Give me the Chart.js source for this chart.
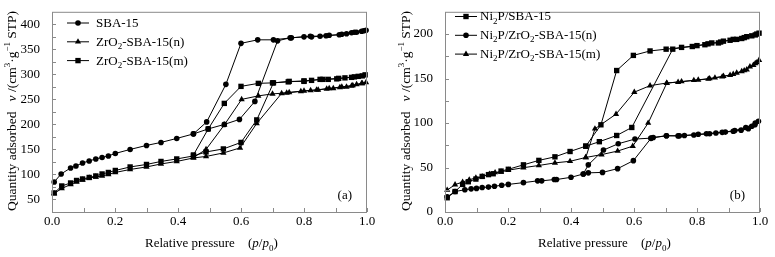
<!DOCTYPE html>
<html>
<head>
<meta charset="utf-8">
<script src="https://cdn.jsdelivr.net/npm/chart.js@4.4.1/dist/chart.umd.min.js"></script>
<style>
body { margin: 0; background: #fff; }
#wrap { position: relative; width: 775px; height: 257px; }
canvas { position: absolute; top: 0; }
#chartA { left: 0; }
#chartB { left: 390px; }
</style>
</head>
<body>
<div id="wrap">
<canvas id="chartA" width="385" height="257"></canvas>
<canvas id="chartB" width="385" height="257"></canvas>
</div>
<script>
// eixo x (pressao relativa p/p0)
const xTicks = [0, 0.2, 0.4, 0.6, 0.8, 1.0];
const xTickLabels = ['0.0', '0.2', '0.4', '0.6', '0.8', '1.0'];
const xMinor = [0.1, 0.3, 0.5, 0.7, 0.9];

// painel (a)
const yTicksA = [50, 100, 150, 200, 250, 300, 350, 400];
const yMinorA = [75, 125, 175, 225, 275, 325, 375];
const labelsA = ['SBA-15', 'ZrO₂-SBA-15(n)', 'ZrO₂-SBA-15(m)'];

const sbaAdsP = [0.007,0.029,0.059,0.076,0.097,0.118,0.139,0.159,0.179,0.201,0.248,0.300,0.346,0.396,0.449,0.496,0.547,0.595,0.644,0.716,0.756,0.800,0.824,0.851,0.880,0.912,0.935,0.951,0.967,0.983,0.997];
const sbaAdsV = [85,101,113,117,123,127,131,134,137,142,150,158,164,172,181,191,200,210,246,367,373,375,375,376,378,379,381,383,384,386,388];
const sbaDesP = [0.990,0.960,0.920,0.870,0.820,0.760,0.703,0.653,0.600,0.552,0.491,0.449];
const sbaDesV = [387,384,380,377,376,373,369,369,362,280,205,181];

const zrnAdsP = [0.007,0.031,0.059,0.078,0.097,0.118,0.139,0.159,0.179,0.201,0.248,0.300,0.346,0.396,0.449,0.489,0.544,0.597,0.650,0.729,0.753,0.800,0.821,0.845,0.872,0.893,0.914,0.935,0.951,0.967,0.983,0.997];
const zrnAdsV = [62,72,80,85,89,93,95,97,100,104,110,115,121,126,133,136,143,153,202,262,264,267,268,269,271,272,274,275,277,280,282,284];
const zrnDesP = [0.985,0.955,0.920,0.880,0.840,0.790,0.745,0.700,0.655,0.602,0.547,0.489,0.449];
const zrnDesV = [282,278,275,272,269,266,263,261,257,250,199,150,134];

const zrmAdsP = [0.007,0.031,0.059,0.078,0.097,0.118,0.139,0.159,0.179,0.201,0.248,0.300,0.346,0.396,0.449,0.489,0.544,0.600,0.650,0.703,0.753,0.800,0.824,0.851,0.877,0.904,0.930,0.951,0.972,0.994];
const zrmAdsV = [63,77,83,88,91,94,97,101,104,108,115,120,126,131,137,145,151,164,209,283,286,286,288,290,290,291,293,294,296,299];
const zrmDesP = [0.985,0.960,0.910,0.860,0.800,0.750,0.700,0.655,0.600,0.547,0.496,0.449];
const zrmDesV = [297,295,292,290,287,285,283,282,276,242,191,139];

// painel (b)
const yTicksB = [0, 50, 100, 150, 200];
const yMinorB = [25, 75, 125, 175];
const labelsB = ['Ni₂P/SBA-15', 'Ni₂P/ZrO₂-SBA-15(n)', 'Ni₂P/ZrO₂-SBA-15(m)'];

const niAdsP = [0.007,0.032,0.056,0.074,0.098,0.118,0.138,0.153,0.178,0.201,0.249,0.298,0.349,0.397,0.447,0.490,0.545,0.593,0.723,0.751,0.800,0.825,0.847,0.868,0.884,0.905,0.926,0.942,0.958,0.974,0.990,0.997];
const niAdsV = [16,23,31,34,37,40,42,43,46,48,53,58,62,68,74,79,86,95,183,185,187,188,190,190,192,193,194,195,197,198,200,201];
const niDesP = [0.985,0.950,0.915,0.875,0.835,0.785,0.702,0.651,0.598,0.545,0.495,0.447];
const niDesV = [199,196,194,191,189,186,183,181,176,159,98,74];

const nizrnAdsP = [0.007,0.032,0.063,0.083,0.100,0.118,0.138,0.157,0.180,0.201,0.249,0.294,0.307,0.347,0.354,0.400,0.439,0.455,0.500,0.548,0.598,0.654,0.661,0.703,0.744,0.760,0.804,0.830,0.860,0.890,0.915,0.940,0.963,0.974,0.984,0.995];
const nizrnAdsV = [17,23,25,26,26.5,27.5,28,29,30,31,33,35,35,36.5,36.5,39,42.7,44,44.5,48.7,57.7,82.8,83.8,85.7,85.7,86,87.4,88,88.8,89.8,90.8,92,93.5,96.4,98,102];
const nizrnDesP = [0.985,0.955,0.920,0.880,0.840,0.790,0.740,0.703,0.654,0.603,0.550,0.503,0.455,0.439];
const nizrnDesV = [100,95,91.5,89.5,88,86.5,85.5,85.7,83,82,76.7,69.6,53,42.7];

const nizrmAdsP = [0.007,0.032,0.056,0.077,0.098,0.118,0.141,0.159,0.178,0.201,0.249,0.298,0.349,0.397,0.447,0.497,0.548,0.596,0.645,0.704,0.751,0.804,0.836,0.857,0.884,0.905,0.926,0.942,0.958,0.968,0.979,0.990,0.997];
const nizrmAdsV = [24.7,30.8,33.7,36.2,38.4,39.8,42.7,44.4,45,47,49.8,52.3,55.2,57,61.3,64.5,68.5,74,100,144.8,146.6,148.4,149.5,150.9,152.7,153.8,156.3,158,160,163.4,165,168,170.6];
const nizrmDesP = [0.985,0.950,0.915,0.880,0.840,0.790,0.740,0.704,0.651,0.601,0.543,0.476,0.447];
const nizrmDesV = [167,159,155,152,150,148,146,145,142,134.7,110,93.5,61.3];

const fonte = '"Liberation Serif", "Times New Roman", serif';

// junta adsorcao + dessorcao numa linha so
function curva(aP, aV, dP, dV) {
    const pts = aP.map((p, i) => ({ x: p, y: aV[i] }));
    return pts.concat(dP.map((p, i) => ({ x: p, y: dV[i] })));
}

function serie(label, dados, estilo, raio) {
    return {
        label: label,
        data: dados,
        showLine: true,
        borderColor: '#000',
        backgroundColor: '#000',
        borderWidth: 1,
        pointStyle: estilo,
        pointRadius: raio,
        pointBorderWidth: 0,
        pointBackgroundColor: '#000',
        clip: false
    };
}

// texto com sub/sobrescrito e italico entre { }
function tokens(txt) {
    const sub = { '₂': '2', '₀': '0' };
    const sup = { '³': '3', '⁻': '−', '¹': '1' };
    const out = [];
    let it = false;
    for (const ch of txt) {
        if (ch === '{') { it = true; continue; }
        if (ch === '}') { it = false; continue; }
        let tipo = 'n', c = ch;
        if (sub[ch]) { tipo = 'sub'; c = sub[ch]; }
        else if (sup[ch]) { tipo = 'sup'; c = sup[ch]; }
        const ult = out[out.length - 1];
        if (ult && ult.tipo === tipo && ult.it === it) ult.t += c;
        else out.push({ t: c, tipo: tipo, it: it });
    }
    return out;
}

function fontDe(tk, size) {
    const s = tk.tipo === 'n' ? size : Math.round(size * 0.68);
    return (tk.it ? 'italic ' : '') + s + 'px ' + fonte;
}

function largura(ctx, toks, size) {
    let w = 0;
    toks.forEach(tk => { ctx.font = fontDe(tk, size); w += ctx.measureText(tk.t).width; });
    return w;
}

function escreve(ctx, txt, x, y, size) {
    const toks = tokens(txt);
    ctx.textBaseline = 'middle';
    ctx.textAlign = 'left';
    toks.forEach(tk => {
        ctx.font = fontDe(tk, size);
        const dy = tk.tipo === 'sub' ? size * 0.32 : tk.tipo === 'sup' ? -size * 0.3 : 0;
        ctx.fillText(tk.t, x, y + dy);
        x += ctx.measureText(tk.t).width;
    });
    return x;
}

const molduraPlugin = {
    id: 'moldura',
    afterDraw(chart, args, opts) {
        const ctx = chart.ctx;
        const a = chart.chartArea;
        const x = chart.scales.x, y = chart.scales.y;
        ctx.save();
        // caixa
        ctx.strokeStyle = '#8a8a8a';
        ctx.lineWidth = 1;
        ctx.strokeRect(a.left + 0.5, a.top + 0.5, a.right - a.left - 1, a.bottom - a.top);
        // ticks para dentro
        ctx.beginPath();
        xTicks.concat(xMinor).forEach(v => {
            const px = Math.round(x.getPixelForValue(v)) + 0.5;
            ctx.moveTo(px, a.bottom);
            ctx.lineTo(px, a.bottom - 4);
        });
        opts.yTicks.concat(opts.yMinor).forEach(v => {
            const py = Math.round(y.getPixelForValue(v)) + 0.5;
            ctx.moveTo(a.left, py);
            ctx.lineTo(a.left + 4, py);
        });
        ctx.stroke();

        ctx.fillStyle = '#000';
        // legenda
        chart.data.datasets.forEach((ds, i) => {
            const ly = opts.legY + i * 18.8;
            ctx.strokeStyle = '#000';
            ctx.beginPath();
            ctx.moveTo(opts.legX, ly + 0.5);
            ctx.lineTo(opts.legX + 22, ly + 0.5);
            ctx.stroke();
            ctx.fillStyle = '#000';
            Chart.helpers.drawPoint(ctx, { pointStyle: ds.pointStyle, radius: ds.pointRadius, rotation: 0, borderWidth: 0 }, opts.legX + 11, ly + 0.5);
            escreve(ctx, ds.label, opts.legX + opts.legText, ly + 1, 13);
        });

        // titulo do eixo y (vertical)
        const ty = tokens(opts.yTitle);
        const w = largura(ctx, ty, 13.5);
        ctx.save();
        ctx.translate(opts.yTitleX, (a.top + a.bottom) / 2 - 1);
        ctx.rotate(-Math.PI / 2);
        escreve(ctx, opts.yTitle, -w / 2, 0, 13.5);
        ctx.restore();

        // titulo do eixo x
        escreve(ctx, 'Relative pressure', a.left + 93, 244, 13);
        escreve(ctx, '({p}/{p}₀)', a.left + 196, 244, 13);

        // letra do painel
        ctx.font = '13px ' + fonte;
        ctx.textAlign = 'right';
        ctx.textBaseline = 'middle';
        ctx.fillText(opts.tag, a.right - 15, a.bottom - 16);
        ctx.restore();
    }
};

function montaGrafico(id, datasets, yMin, yMax, yTicks, yMinor, extra) {
    const ctx = document.getElementById(id).getContext('2d');
    return new Chart(ctx, {
        type: 'scatter',
        data: { datasets: datasets },
        options: {
            responsive: false,
            animation: false,
            devicePixelRatio: 1,
            layout: { padding: { left: 0, right: extra.padRight, top: 4, bottom: 0 } },
            scales: {
                x: {
                    type: 'linear',
                    min: 0,
                    max: 1,
                    grid: { display: false },
                    border: { display: false },
                    afterBuildTicks: s => { s.ticks = xTicks.map(v => ({ value: v })); },
                    afterFit: s => { s.height = 45; },
                    ticks: {
                        color: '#000',
                        padding: -6,
                        maxRotation: 0,
                        font: { family: fonte, size: 13 },
                        callback: (v, i) => xTickLabels[i]
                    }
                },
                y: {
                    type: 'linear',
                    min: yMin,
                    max: yMax,
                    grid: { display: false },
                    border: { display: false },
                    afterBuildTicks: s => { s.ticks = yTicks.map(v => ({ value: v })); },
                    afterFit: s => { s.width = extra.yWidth; },
                    ticks: {
                        color: '#000',
                        padding: 4,
                        font: { family: fonte, size: 13 }
                    }
                }
            },
            plugins: {
                legend: { display: false },
                tooltip: { enabled: false },
                moldura: Object.assign({ yTicks: yTicks, yMinor: yMinor }, extra)
            }
        },
        plugins: [molduraPlugin]
    });
}

const tituloY = 'Quantity adsorbed   {v} /(cm³·g⁻¹ STP)';

montaGrafico('chartA', [
    serie(labelsA[0], curva(sbaAdsP, sbaAdsV, sbaDesP, sbaDesV), 'circle', 2.8),
    serie(labelsA[1], curva(zrnAdsP, zrnAdsV, zrnDesP, zrnDesV), 'triangle', 3.6),
    serie(labelsA[2], curva(zrmAdsP, zrmAdsV, zrmDesP, zrmDesV), 'rect', 3.8)
], 25, 425, yTicksA, yMinorA, {
    padRight: 18, yWidth: 52, legX: 67, legText: 29, legY: 22.5,
    yTitle: tituloY, yTitleX: 12, tag: '(a)'
});

montaGrafico('chartB', [
    serie(labelsB[0], curva(niAdsP, niAdsV, niDesP, niDesV), 'rect', 3.8),
    serie(labelsB[1], curva(nizrnAdsP, nizrnAdsV, nizrnDesP, nizrnDesV), 'circle', 2.8),
    serie(labelsB[2], curva(nizrmAdsP, nizrmAdsV, nizrmDesP, nizrmDesV), 'triangle', 3.6)
], 0, 225, yTicksB, yMinorB, {
    padRight: 15, yWidth: 55, legX: 65, legText: 25, legY: 16,
    yTitle: tituloY, yTitleX: 16, tag: '(b)'
});
</script>
</body>
</html>
